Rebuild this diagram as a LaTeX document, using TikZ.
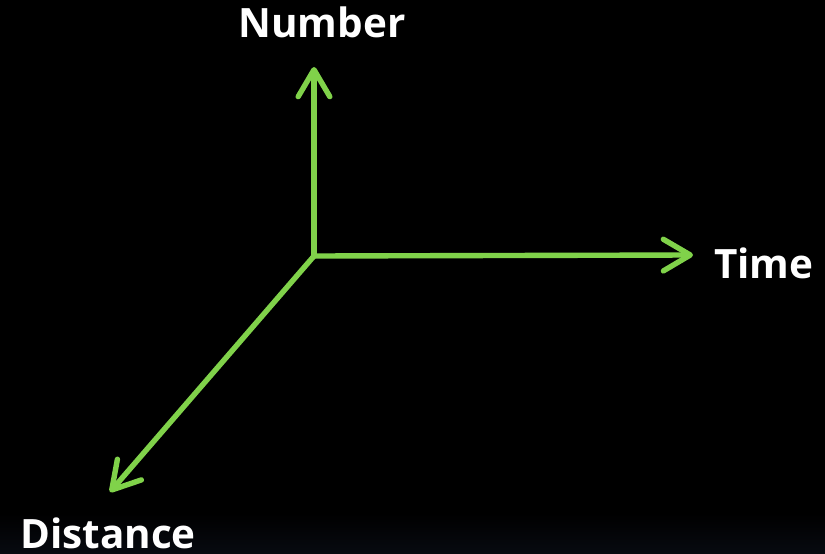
\documentclass[tikz,border=0pt]{standalone}
\usepackage{fontspec}
\setmainfont{Open Sans}
\usepackage{tikz}
\usetikzlibrary{arrows.meta}
\definecolor{axisgreen}{HTML}{80D24A}
\definecolor{bottomgray}{HTML}{070A10}

\begin{document}
\begin{tikzpicture}[x=0.03cm, y=0.03cm,
		axis/.style={line width=4.6pt, axisgreen, line cap=round,
			-{Straight Barb[length=23pt, width=27pt, round]}},
		axislabel/.style={text=white, font=\bfseries\fontsize{34.5}{38}\selectfont, inner sep=0pt}]
	% Hintergrund
	\fill[black] (0,0) rectangle (825,553);
	\shade[top color=black, bottom color=bottomgray] (0,0) rectangle (825,40);
	\useasboundingbox (0,0) rectangle (825,553);
	% Ursprung und Pfeilspitzen
	\coordinate (O) at (314,297);
	\coordinate (numtip) at (314,486);
	\coordinate (timetip) at (693,298);
	\coordinate (disttip) at (110,61);
	% Achsen
	\draw[axis] (O) -- (numtip);
	\draw[axis] (O) -- (timetip);
	\draw[axis] (O) -- (disttip);
	% Beschriftungen
	\node[axislabel, anchor=base] (number) at (322,515) {Number};
	\node[axislabel, anchor=base west] (time) at (714,275) {Time};
	\node[axislabel, anchor=base west] (distance) at (20,5) {Distance};
\end{tikzpicture}
\end{document}
